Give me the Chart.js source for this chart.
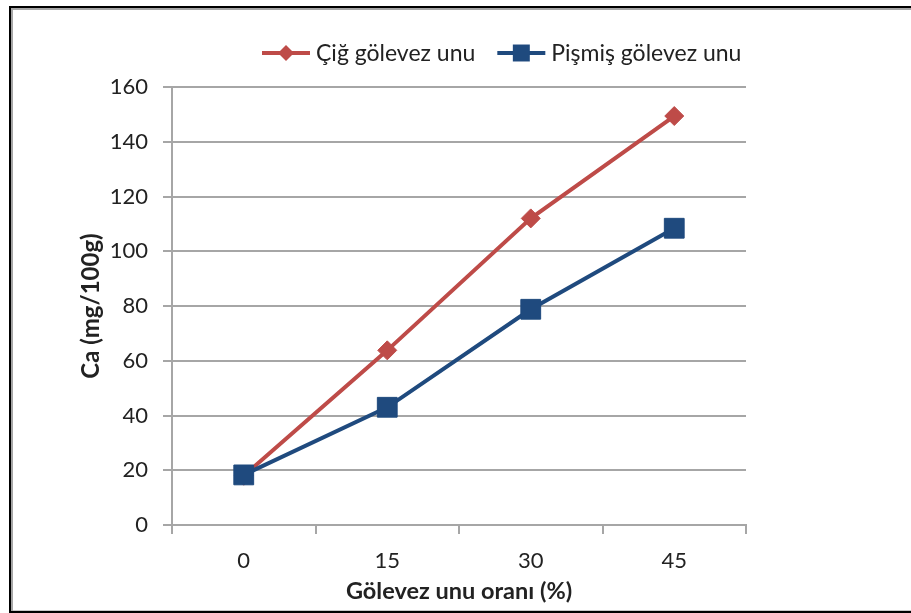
<!DOCTYPE html>
<html>
<head>
<meta charset="utf-8">
<script src="https://cdn.jsdelivr.net/npm/chart.js@4.4.1/dist/chart.umd.min.js"></script>
<style>
	body { margin: 0; background: #fff; overflow: hidden; }
	#zone { position: absolute; left: 0; top: 0; width: 911px; height: 613px; }
	/* cadre noir avec liseré gris, ouvert à droite */
	#cadre {
		position: absolute; left: 9px; top: 6px; width: 920px; height: 607px;
		box-sizing: border-box; border: 2px solid #000; border-right: none;
		box-shadow: inset 2px 2px 0 #a6a6a6, inset 0 -1px 0 #c8c8c8;
		pointer-events: none;
	}
</style>
</head>
<body>
<div id="zone"><canvas id="graphique" width="911" height="613"></canvas></div>
<div id="cadre"></div>
<script>
// Oranlar (%) et teneurs en calcium (mg/100g)
const oranlar = ["0", "15", "30", "45"];
const cigGolevez = [18, 63.8, 112, 149.4];
const pismisGolevez = [18.3, 43, 78.8, 108.4];
const seriesAdlari = ["Çiğ gölevez unu", "Pişmiş gölevez unu"];
const yMin = 0;
const yMax = 160;
const yPas = 20;

const gris = "#a6a6a6";
const texte = "#222";

Chart.defaults.font.family = "Lato, 'Open Sans', sans-serif";
Chart.defaults.font.size = 22;
Chart.defaults.color = texte;

// Légende en haut : trait + marqueur puis le libellé
const legendeLigne = {
	id: "legendeLigne",
	afterDraw(chart) {
		const ctx = chart.ctx;
		const y = 53;
		let x = 262;
		ctx.save();
		ctx.font = "23px Lato, 'Open Sans', sans-serif";
		ctx.textBaseline = "middle";
		chart.data.datasets.forEach(ds => {
			ctx.strokeStyle = ds.borderColor;
			ctx.fillStyle = ds.pointBackgroundColor;
			ctx.lineWidth = ds.borderWidth;
			ctx.beginPath();
			ctx.moveTo(x, y);
			ctx.lineTo(x + 48, y);
			ctx.stroke();
			Chart.helpers.drawPoint(ctx, {
				pointStyle: ds.pointStyle,
				radius: ds.legendRadius,
				rotation: 0,
				borderWidth: 0
			}, x + 24, y);
			ctx.fillStyle = texte;
			ctx.fillText(ds.label, x + 54, y + 1);
			x += 54 + ctx.measureText(ds.label).width + 22;
		});
		ctx.restore();
	}
};

new Chart(document.querySelector("#graphique"), {
	type: "line",
	data: {
		labels: oranlar,
		datasets: [{
			label: seriesAdlari[0],
			data: cigGolevez,
			borderColor: "#be4b48",
			backgroundColor: "#be4b48",
			pointBackgroundColor: "#be4b48",
			pointBorderColor: "#be4b48",
			borderWidth: 4,
			pointStyle: "rectRot",
			pointRadius: 9.5,
			legendRadius: 8,
			pointBorderWidth: 1,
			order: 1
		}, {
			label: seriesAdlari[1],
			data: pismisGolevez,
			borderColor: "#1f4a7e",
			backgroundColor: "#1f4a7e",
			pointBackgroundColor: "#1f4a7e",
			pointBorderColor: "#1f4a7e",
			borderWidth: 4,
			pointStyle: "rect",
			pointRadius: 14,
			legendRadius: 12,
			pointBorderWidth: 1,
			order: 0
		}]
	},
	options: {
		responsive: false,
		animation: false,
		devicePixelRatio: 1,
		layout: { padding: { left: 0, right: 165, top: 87, bottom: 0 } },
		plugins: {
			legend: { display: false },
			tooltip: { enabled: false }
		},
		scales: {
			x: {
				offset: true,
				afterFit: scale => { scale.height = 88; },
				grid: {
					offset: true,
					drawOnChartArea: false,
					tickLength: 9,
					color: gris,
					lineWidth: 2
				},
				border: { color: gris, width: 2 },
				ticks: { padding: 14, font: { size: 22 } },
				title: {
					display: true,
					text: "Gölevez unu oranı (%)",
					font: { size: 23.5, weight: "bold" },
					padding: { top: 0, bottom: 7 }
				}
			},
			y: {
				min: yMin,
				max: yMax,
				afterFit: scale => { scale.width = 172; },
				grid: { tickLength: 9, color: gris, lineWidth: 2 },
				border: { color: gris, width: 2 },
				ticks: { stepSize: yPas, padding: 15, font: { size: 22 } },
				title: {
					display: true,
					text: "Ca (mg/100g)",
					font: { size: 24, weight: "bold" },
					padding: { top: 77, bottom: 0 }
				}
			}
		}
	},
	plugins: [legendeLigne]
});
</script>
</body>
</html>
